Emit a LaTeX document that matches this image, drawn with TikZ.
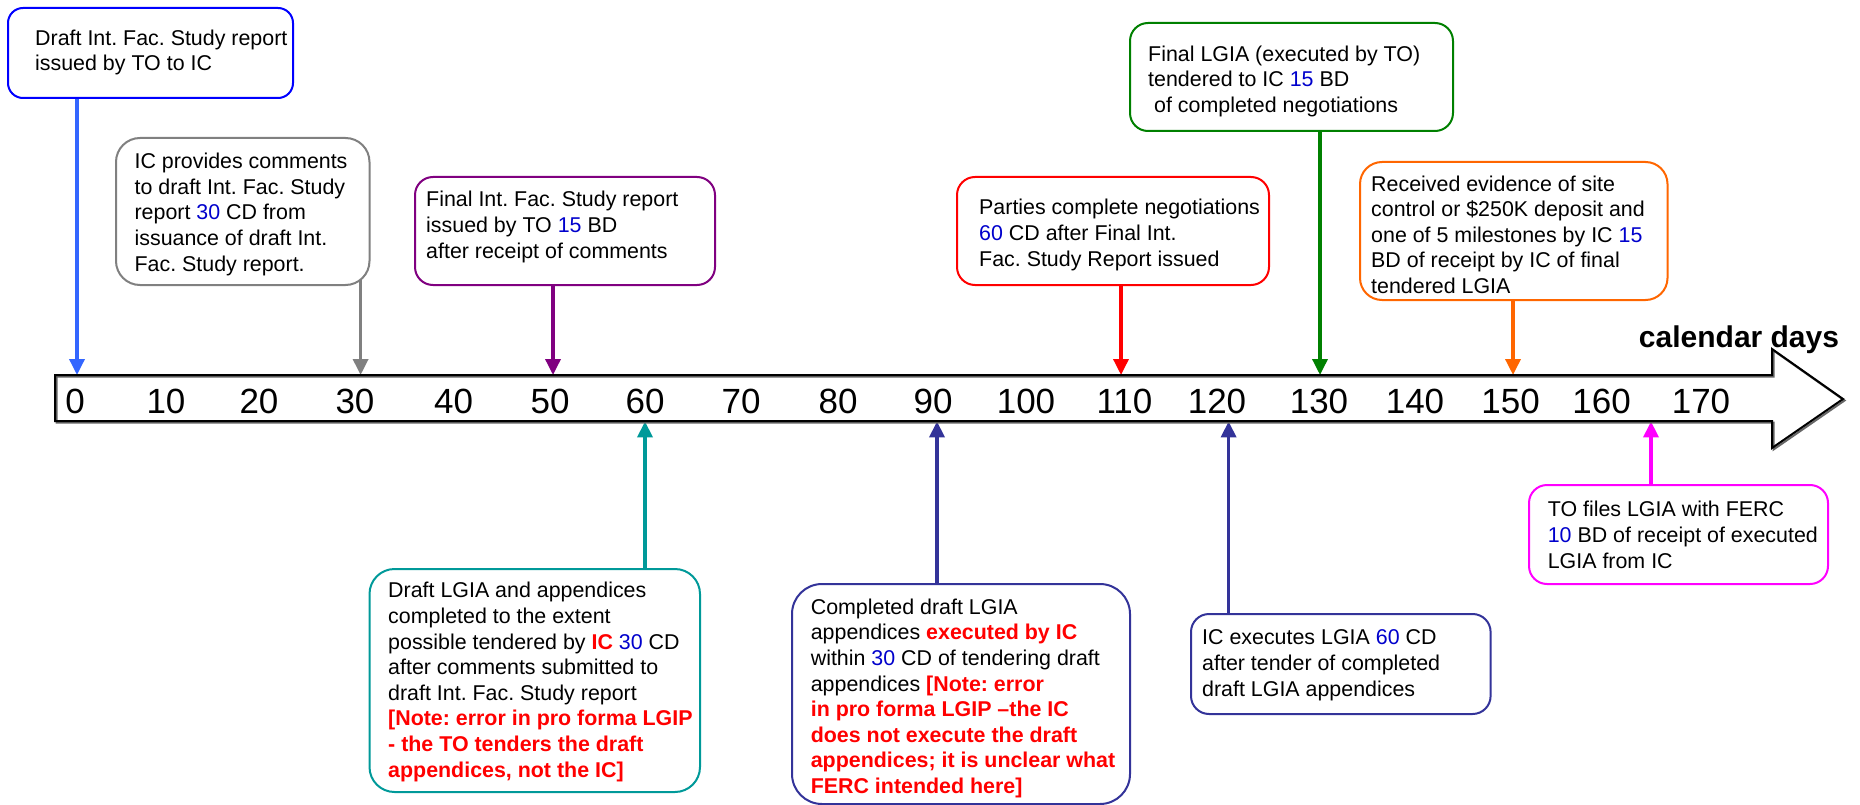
\documentclass[tikz,border=0pt]{standalone}
\usepackage{fontspec}
\setmainfont{Liberation Sans}
\usetikzlibrary{arrows.meta,backgrounds}
\frenchspacing

\definecolor{cdBlue}{RGB}{0,0,255}
\definecolor{cdArrowBlue}{RGB}{51,102,255}
\definecolor{cdGray}{RGB}{128,128,128}
\definecolor{cdPurple}{RGB}{128,0,128}
\definecolor{cdRed}{RGB}{255,0,0}
\definecolor{cdGreen}{RGB}{0,128,0}
\definecolor{cdOrange}{RGB}{255,102,0}
\definecolor{cdTeal}{RGB}{0,153,153}
\definecolor{cdNavy}{RGB}{51,51,153}
\definecolor{cdMagenta}{RGB}{255,0,255}
\definecolor{cdNum}{RGB}{0,0,204}

% day counts in blue, remarks in bold red
\newcommand{\nb}[1]{\textcolor{cdNum}{#1}}
\newcommand{\rb}[1]{\textcolor{cdRed}{\bfseries #1}}

\begin{document}
\begin{tikzpicture}[x=1pt,y=-1pt,
  evbox/.style={draw, line width=2pt, fill=white, inner sep=0pt, anchor=north west},
  % texts are placed by the baseline of their last line
  evtext/.style={anchor=base west, align=left, inner sep=0pt,
                 font=\fontsize{21.4}{25.6}\selectfont},
  daynum/.style={anchor=base, inner sep=0pt, font=\fontsize{35}{40}\selectfont},
  pointer/.style={line width=3.5pt, -{Triangle[width=15pt,length=16pt]}},
]
\useasboundingbox (0,0) rectangle (1860,805);

% ---- the calendar-day axis as a block arrow ----
\node[inner sep=0pt, minimum width=1717pt, minimum height=46pt, anchor=north west] (tl) at (55,375) {};
\fill[white] (55,375) -- (1772,375) -- (1772,349) -- (1843,399) -- (1772,448) -- (1772,421) -- (55,421) -- cycle;
\draw[black!60, line width=2pt, line join=miter, shift={(1.5,1.5)}]
  (55,375) -- (1772,375) -- (1772,349) -- (1843,399) -- (1772,448) -- (1772,421) -- (55,421) -- cycle;
\draw[black, line width=2pt, line join=miter]
  (55,375) -- (1772,375) -- (1772,349) -- (1843,399) -- (1772,448) -- (1772,421) -- (55,421) -- cycle;

\foreach \v/\x in {0/75,10/166,20/259,30/355,40/453.5,50/550,60/645,70/741,80/838,
                   90/933,100/1026,110/1124.5,120/1217,130/1319,140/1415,150/1510.6,
                   160/1601.6,170/1701}
  \node[daynum] (n\v) at (\x,413) {\v};

\node[anchor=base, inner sep=0pt, font=\fontsize{30}{34}\selectfont\bfseries] (cal) at (1739,347) {calendar days};

% positions on the axis where the events point
\coordinate (t0) at (77,0);
\coordinate (t30) at (360.6,0);
\coordinate (t50) at (553,0);
\coordinate (t60) at (645,0);
\coordinate (t90) at (937,0);
\coordinate (t110) at (1121,0);
\coordinate (t120) at (1228.6,0);
\coordinate (t130) at (1320,0);
\coordinate (t150) at (1513,0);
\coordinate (t165) at (1651,0);

% ---- event boxes above the axis ----
\node[evbox, draw=cdBlue, rounded corners=15pt, minimum width=285pt, minimum height=90pt] (b1) at (7,7) {};
\node[evbox, draw=cdGray, rounded corners=24pt, minimum width=253.5pt, minimum height=147pt] (b2) at (115,137) {};
\node[evbox, draw=cdPurple, rounded corners=18pt, minimum width=300pt, minimum height=108pt] (b3) at (414,176) {};
\node[evbox, draw=cdRed, rounded corners=18pt, minimum width=312pt, minimum height=108pt] (b4) at (956,176) {};
\node[evbox, draw=cdGreen, rounded corners=18pt, minimum width=323pt, minimum height=108pt] (b5) at (1129,22) {};
\node[evbox, draw=cdOrange, rounded corners=22pt, minimum width=307.5pt, minimum height=138pt] (b6) at (1359,161) {};

% ---- event boxes below the axis ----
\node[evbox, draw=cdTeal, rounded corners=25pt, minimum width=330.5pt, minimum height=223pt] (b7) at (368.5,568) {};
\node[evbox, draw=cdNavy, rounded corners=30pt, minimum width=338pt, minimum height=220pt] (b8) at (791,583) {};
\node[evbox, draw=cdNavy, rounded corners=18pt, minimum width=299.6pt, minimum height=100pt] (b9) at (1190,613) {};
\node[evbox, draw=cdMagenta, rounded corners=18pt, minimum width=299pt, minimum height=99pt] (b10) at (1528,484) {};

% ---- box texts ----
\node[evtext] (b1t) at (35,71) {Draft Int. Fac. Study report\\issued by TO to IC};
\node[evtext] (b2t) at (134.4,271) {IC provides comments\\to draft Int. Fac. Study\\report \nb{30} CD from\\issuance of draft Int.\\Fac. Study report.};
\node[evtext] (b3t) at (426,258) {Final Int. Fac. Study report\\issued by TO \nb{15} BD\\after receipt of comments};
\node[evtext] (b4t) at (979,266) {Parties complete negotiations\\\nb{60} CD after Final Int.\\Fac. Study Report issued};
\node[evtext] (b5t) at (1148,112.5) {Final LGIA (executed by TO)\\tendered to IC \nb{15} BD\\\hspace*{6pt}of completed negotiations};
\node[evtext] (b6t) at (1371,293.5) {Received evidence of site\\control or \$250K deposit and\\one of 5 milestones by IC \nb{15}\\BD of receipt by IC of final\\tendered LGIA};
\node[evtext] (b7t) at (388,777) {Draft LGIA and appendices\\completed to the extent\\possible tendered by \rb{IC} \nb{30} CD\\after comments submitted to\\draft Int. Fac. Study report\\\rb{[Note: error in pro forma LGIP}\\\rb{- the TO tenders the draft}\\\rb{appendices, not the IC]}};
\node[evtext] (b8t) at (810.6,793.5) {Completed draft LGIA\\appendices \rb{executed by IC}\\within \nb{30} CD of tendering draft\\appendices \rb{[Note: error}\\\rb{in pro forma LGIP –the IC}\\\rb{does not execute the draft}\\\rb{appendices; it is unclear what}\\\rb{FERC intended here]}};
\node[evtext] (b9t) at (1202,696) {IC executes LGIA \nb{60} CD\\after tender of completed\\draft LGIA appendices};
\node[evtext] (b10t) at (1547.6,568) {TO files LGIA with FERC\\\nb{10} BD of receipt of executed\\LGIA from IC};

% ---- pointers from the boxes to the axis ----
\begin{scope}[on background layer]
\draw[pointer, cdArrowBlue] (b1.center -| t0) -- (tl.north -| t0);
\draw[pointer, cdGray] (b2.center -| t30) -- (tl.north -| t30);
\draw[pointer, cdPurple] (b3.center -| t50) -- (tl.north -| t50);
\draw[pointer, cdRed] (b4.center -| t110) -- (tl.north -| t110);
\draw[pointer, cdGreen] (b5.center -| t130) -- (tl.north -| t130);
\draw[pointer, cdOrange] (b6.center -| t150) -- (tl.north -| t150);
\draw[pointer, cdTeal] (b7.center -| t60) -- (tl.south -| t60);
\draw[pointer, cdNavy] (b8.center -| t90) -- (tl.south -| t90);
\draw[pointer, cdNavy] (b9.center -| t120) -- (tl.south -| t120);
\draw[pointer, cdMagenta] (b10.center -| t165) -- (tl.south -| t165);
\end{scope}
\end{tikzpicture}
\end{document}
